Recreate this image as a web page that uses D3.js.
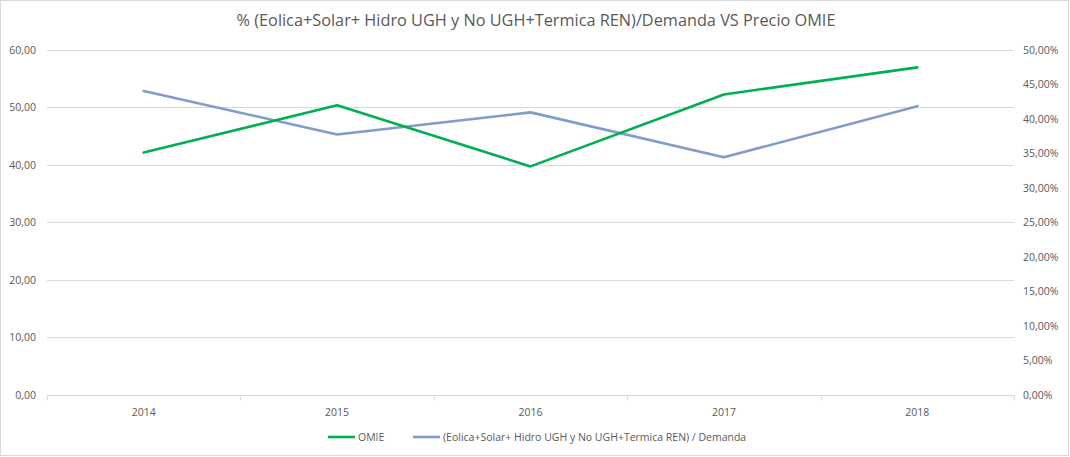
<!DOCTYPE html>
<html>
<head>
<meta charset="utf-8">
<script src="https://cdn.jsdelivr.net/npm/d3@7"></script>
<style>
  html, body { margin: 0; padding: 0; background: #fff; }
  svg { display: block; }
</style>
</head>
<body>
<svg id="chart"></svg>
<script>
// Chart data.
const years = ['2014', '2015', '2016', '2017', '2018'];
const omie = [42.1, 50.3, 39.7, 52.2, 56.9];
const renShare = [0.440, 0.377, 0.409, 0.344, 0.418];
const leftTicks = [0, 10, 20, 30, 40, 50, 60];
const rightTicks = [0, 0.05, 0.10, 0.15, 0.20, 0.25, 0.30, 0.35, 0.40, 0.45, 0.50];

const title = '% (Eolica+Solar+ Hidro UGH y No UGH+Termica REN)/Demanda VS Precio OMIE';
const seriesNames = ['OMIE', '(Eolica+Solar+ Hidro UGH y No UGH+Termica REN) / Demanda'];

const W = 1070, H = 457;
const plot = { left: 47, right: 1014, top: 49.5, bottom: 395 };
const font = '"Open Sans", "Liberation Sans", sans-serif';
const grey = '#595959';
const green = '#00b050';
const blue = '#7f9ccb';

const svg = d3.select('#chart').attr('width', W).attr('height', H);

// outer chart border
svg.append('rect')
  .attr('x', 0.5).attr('y', 0.5)
  .attr('width', W - 2).attr('height', H - 2)
  .attr('fill', '#fff').attr('stroke', '#d9d9d9');

const x = d3.scaleBand().domain(years).range([plot.left, plot.right]);
const yL = d3.scaleLinear().domain([0, 60]).range([plot.bottom, plot.top]);
const yR = d3.scaleLinear().domain([0, 0.5]).range([plot.bottom, plot.top]);

const fmtL = d => d3.format('.2f')(d).replace('.', ',');
const fmtR = d => d3.format('.2f')(d * 100).replace('.', ',') + '%';

// horizontal gridlines
svg.append('g')
  .selectAll('line')
  .data(leftTicks.filter(t => t > 0))
  .join('line')
  .attr('x1', plot.left).attr('x2', plot.right)
  .attr('y1', d => Math.round(yL(d)) + 0.5).attr('y2', d => Math.round(yL(d)) + 0.5)
  .attr('stroke', '#d9d9d9');

// left axis labels
svg.append('g')
  .selectAll('text')
  .data(leftTicks)
  .join('text')
  .attr('x', 36).attr('y', d => yL(d) + 4)
  .attr('text-anchor', 'end')
  .attr('font-family', font).attr('font-size', 10.5)
  .attr('fill', grey)
  .text(fmtL);

// right axis labels
svg.append('g')
  .selectAll('text')
  .data(rightTicks)
  .join('text')
  .attr('x', 1023).attr('y', d => yR(d) + 4)
  .attr('text-anchor', 'start')
  .attr('font-family', font).attr('font-size', 10.5)
  .attr('fill', grey)
  .text(fmtR);

// category axis: baseline, ticks between bands, labels centred
const xAxis = svg.append('g').attr('transform', `translate(0,${Math.round(plot.bottom) + 0.5})`);
xAxis.append('line')
  .attr('x1', plot.left).attr('x2', plot.right)
  .attr('stroke', '#d9d9d9');
const bounds = years.map(y => x(y)).concat([plot.right]);
xAxis.selectAll('line.tick')
  .data(bounds)
  .join('line')
  .attr('class', 'tick')
  .attr('x1', d => Math.round(d) + 0.5).attr('x2', d => Math.round(d) + 0.5)
  .attr('y1', 0).attr('y2', 5)
  .attr('stroke', '#d9d9d9');
xAxis.selectAll('text')
  .data(years)
  .join('text')
  .attr('x', d => x(d) + x.bandwidth() / 2)
  .attr('y', 20)
  .attr('text-anchor', 'middle')
  .attr('font-family', font).attr('font-size', 10.5)
  .attr('fill', grey)
  .text(d => d);

const cx = d => x(d) + x.bandwidth() / 2;

// series lines
const lineL = d3.line().x((d, i) => cx(years[i])).y(d => yL(d));
const lineR = d3.line().x((d, i) => cx(years[i])).y(d => yR(d));

svg.append('path')
  .datum(renShare)
  .attr('d', lineR)
  .attr('fill', 'none')
  .attr('stroke', blue).attr('stroke-width', 2.6)
  .attr('stroke-linejoin', 'round').attr('stroke-linecap', 'round');

svg.append('path')
  .datum(omie)
  .attr('d', lineL)
  .attr('fill', 'none')
  .attr('stroke', green).attr('stroke-width', 2.6)
  .attr('stroke-linejoin', 'round').attr('stroke-linecap', 'round');

// title
svg.append('text')
  .attr('x', 536).attr('y', 26)
  .attr('text-anchor', 'middle')
  .attr('font-family', font).attr('font-size', 16.3)
  .attr('fill', grey)
  .text(title);

// legend
const legend = svg.append('g').attr('transform', 'translate(0,437)');
const items = [
  { name: seriesNames[0], colour: green, x: 328 },
  { name: seriesNames[1], colour: blue, x: 413 },
];
for (const it of items) {
  legend.append('line')
    .attr('x1', it.x).attr('x2', it.x + 27)
    .attr('y1', 0).attr('y2', 0)
    .attr('stroke', it.colour).attr('stroke-width', 2.6);
  legend.append('text')
    .attr('x', it.x + 30).attr('y', 3.5)
    .attr('font-family', font).attr('font-size', 10.5)
    .attr('fill', grey)
    .text(it.name);
}
</script>
</body>
</html>
